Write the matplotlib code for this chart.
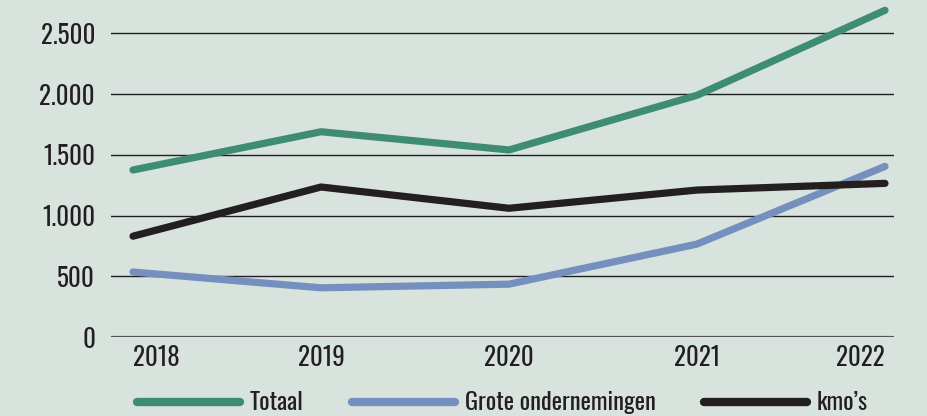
import matplotlib
matplotlib.use("Agg")
import matplotlib.pyplot as plt
from matplotlib.ticker import FixedLocator

years = [2018, 2019, 2020, 2021, 2022]
totaal = [1375, 1690, 1540, 1990, 2690]
grote = [535, 405, 435, 765, 1405]
kmos = [830, 1235, 1060, 1210, 1265]
yticks = [0, 500, 1000, 1500, 2000, 2500]
ylabels = ["0", "500", "1.000", "1.500", "2.000", "2.500"]

BG = "#d9e3dd"
INK = "#231f20"
plt.rcParams["font.family"] = ["Oswald", "Liberation Sans", "DejaVu Sans"]

fig = plt.figure(figsize=(9.27, 4.16), dpi=100, facecolor=BG)
ax = fig.add_axes([111/927, (416-337)/416, (894-111)/927, 334/416])
ax.set_facecolor(BG)

ax.plot(years, totaal, color="#3f8c74", lw=5.2, solid_capstyle="round", label="Totaal", zorder=3)
ax.plot(years, grote, color="#7590bf", lw=5.2, solid_capstyle="round", label="Grote ondernemingen", zorder=3)
ax.plot(years, kmos, color=INK, lw=5.2, solid_capstyle="round", label="kmo\u2019s", zorder=3)

ax.set_xlim(2018 - 22/188, 2022 + 9/188)
ax.set_ylim(0, 2750)
ax.yaxis.set_major_locator(FixedLocator(yticks))
ax.set_yticklabels(ylabels)
ax.set_xticks(years)
ax.tick_params(axis="both", length=0, labelsize=18, colors=INK)
ax.tick_params(axis="y", pad=11.5)
ax.tick_params(axis="x", pad=6)
xl = ax.get_xticklabels()
xl[0].set_horizontalalignment("left")
xl[0].set_x(2018 - 18/188)
xl[-1].set_horizontalalignment("right")

ax.grid(axis="y", color="#1f1f1f", lw=1.0, zorder=1)
for s in ax.spines.values():
    s.set_visible(False)
ax.axhline(0, color="#555555", lw=1.6, zorder=2)

leg = fig.legend(loc="center left", bbox_to_anchor=(115/927, 13/416), ncol=3,
                 frameon=False, fontsize=17.6, handlelength=4.2, handletextpad=0.4,
                 columnspacing=2.0, labelcolor=INK)
for h in leg.legend_handles:
    h.set_linewidth(6)
    h.set_solid_capstyle("round")

fig.savefig("out.png", dpi=100, facecolor=BG)
